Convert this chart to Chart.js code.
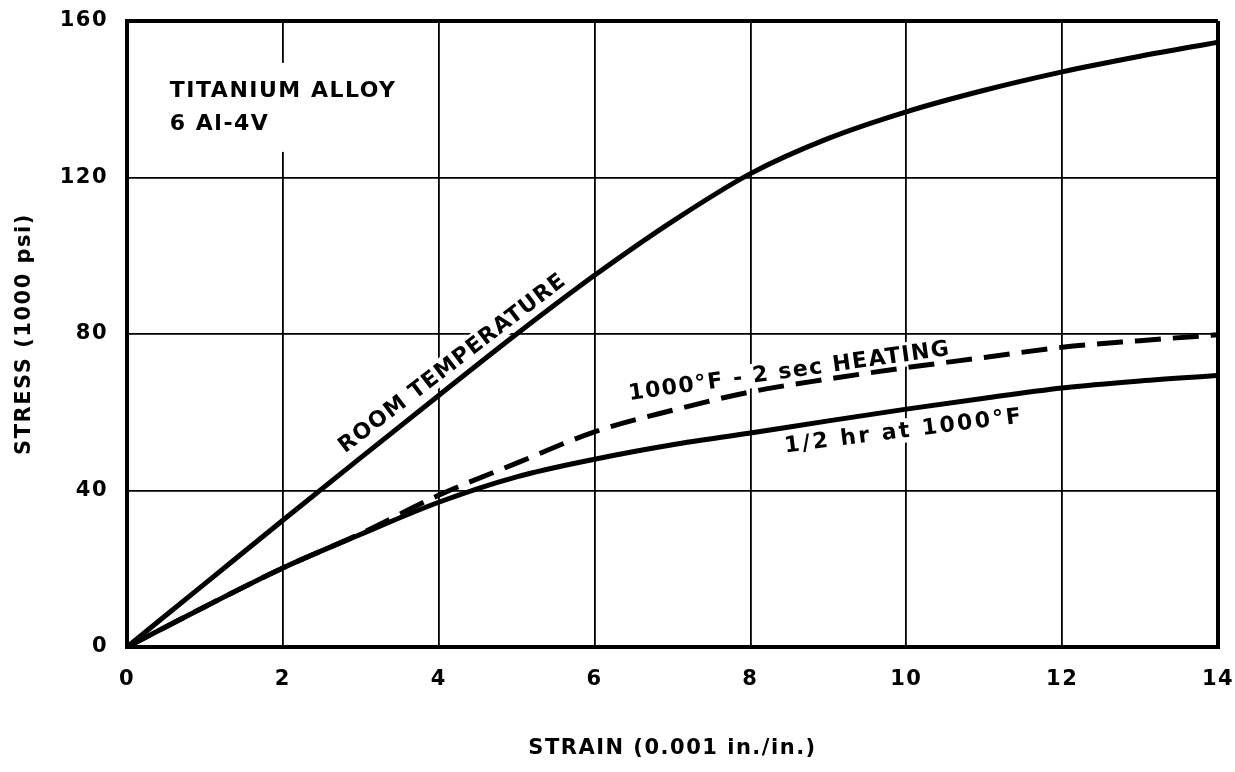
<!DOCTYPE html>
<html>
<head>
<meta charset="utf-8">
<title>Titanium Alloy 6Al-4V Stress-Strain</title>
<script src="https://cdn.jsdelivr.net/npm/chart.js@4.4.1/dist/chart.umd.min.js"></script>
<style>
  html, body { margin: 0; padding: 0; background: #ffffff; }
  #chart { display: block; }
</style>
</head>
<body>
<canvas id="chart" width="1235" height="772"></canvas>
<script>
// Strain values (0.001 in./in.) shared by all three curves
const strain = [0, 1, 2, 3, 4, 5, 6, 7, 8, 9, 10, 11, 12, 13, 14];

// Stress (1000 psi) for each condition
const roomTemperature = [0, 16.2, 32.4, 48.4, 64.3, 80, 95, 108.8, 121, 130, 136.8, 142.3, 147, 151, 154.6];
const heating2sec     = [0, 10.3, 20.2, 29, 38.8, 47, 55, 60.5, 65.2, 68.5, 71.4, 74, 76.6, 78.3, 79.8];
const halfHour1000F   = [0, 10.3, 20.2, 28.8, 37, 43.5, 48, 51.7, 54.7, 57.8, 60.8, 63.6, 66.2, 68, 69.4];

// Axis tick values
const strainTicks = [0, 2, 4, 6, 8, 10, 12, 14];
const stressTicks = [0, 40, 80, 120, 160];

const toPoints = ys => strain.map((x, i) => ({ x: x, y: ys[i] }));

const FONT = '"DejaVu Sans", "Liberation Sans", sans-serif';

// Curve labels, anchored in data space and set along each curve
const curveLabels = [
  { text: 'ROOM TEMPERATURE', x: 4.17, y: 72.6, angle: -37.5, size: 22, spacing: 1 },
  { text: '1000\u00b0F - 2 sec HEATING', x: 8.5, y: 70.6, angle: -8, size: 22, spacing: 1.5 },
  { text: '1/2 hr at 1000\u00b0F', x: 9.97, y: 55.3, angle: -7.2, size: 22, spacing: 2.5 }
];
// Material caption in the upper-left corner
const caption = { lines: ['TITANIUM ALLOY', '6 Al-4V'], x: 0.55, y: 140.6, size: 22, spacing: 1.5, lineGap: 33 };

const labelPlugin = {
  id: 'curveLabels',
  beforeDraw(chart) {
    chart.ctx.letterSpacing = '1.5px';
  },
  beforeDatasetsDraw(chart) {
    // clear the grid behind each label
    const { ctx, scales: { x, y } } = chart;
    ctx.save();
    ctx.fillStyle = '#ffffff';
    curveLabels.forEach(l => {
      ctx.save();
      ctx.font = `bold ${l.size}px ${FONT}`;
      ctx.letterSpacing = l.spacing + 'px';
      const w = ctx.measureText(l.text).width;
      ctx.translate(x.getPixelForValue(l.x), y.getPixelForValue(l.y));
      ctx.rotate(l.angle * Math.PI / 180);
      ctx.fillRect(-w / 2 - 6, -l.size * 0.55, w + 12, l.size * 1.1);
      ctx.restore();
    });
    ctx.font = `bold ${caption.size}px ${FONT}`;
    ctx.letterSpacing = caption.spacing + 'px';
    const cw = Math.max(...caption.lines.map(t => ctx.measureText(t).width));
    const cx = x.getPixelForValue(caption.x);
    const cy = y.getPixelForValue(caption.y);
    ctx.fillRect(cx - 12, cy - caption.size - 12, cw + 24, caption.lineGap + caption.size + 34);
    ctx.restore();
  },
  afterDatasetsDraw(chart) {
    const { ctx, scales: { x, y } } = chart;
    ctx.save();
    ctx.fillStyle = '#000000';
    ctx.textAlign = 'center';
    ctx.textBaseline = 'middle';
    curveLabels.forEach(l => {
      ctx.save();
      ctx.font = `bold ${l.size}px ${FONT}`;
      ctx.letterSpacing = l.spacing + 'px';
      ctx.translate(x.getPixelForValue(l.x), y.getPixelForValue(l.y));
      ctx.rotate(l.angle * Math.PI / 180);
      ctx.fillText(l.text, 0, 1);
      ctx.restore();
    });
    ctx.font = `bold ${caption.size}px ${FONT}`;
    ctx.letterSpacing = caption.spacing + 'px';
    ctx.textAlign = 'left';
    ctx.textBaseline = 'alphabetic';
    const cx = x.getPixelForValue(caption.x);
    const cy = y.getPixelForValue(caption.y);
    caption.lines.forEach((t, i) => ctx.fillText(t, cx, cy + i * caption.lineGap));
    ctx.restore();
    ctx.letterSpacing = '1.5px';
  }
};

const edgeWidth = (ctx, min, max) => {
  const v = ctx.tick ? ctx.tick.value : null;
  return (v === min || v === max) ? 4 : 1.8;
};

new Chart(document.getElementById('chart'), {
  type: 'line',
  data: {
    datasets: [
      {
        label: 'Room temperature',
        data: toPoints(roomTemperature),
        borderColor: '#000000',
        borderWidth: 5,
        cubicInterpolationMode: 'monotone',
        pointRadius: 0,
        borderCapStyle: 'round',
        borderJoinStyle: 'round'
      },
      {
        label: '1000°F - 2 sec heating',
        data: toPoints(heating2sec),
        borderColor: '#000000',
        borderWidth: 5,
        borderDash: [26, 12],
        cubicInterpolationMode: 'monotone',
        pointRadius: 0,
        borderJoinStyle: 'round'
      },
      {
        label: '1/2 hr at 1000°F',
        data: toPoints(halfHour1000F),
        borderColor: '#000000',
        borderWidth: 5,
        cubicInterpolationMode: 'monotone',
        pointRadius: 0,
        borderCapStyle: 'round',
        borderJoinStyle: 'round'
      }
    ]
  },
  options: {
    responsive: false,
    animation: false,
    layout: { padding: { left: 0, right: 17, top: 21, bottom: 0 } },
    plugins: { legend: { display: false }, tooltip: { enabled: false } },
    scales: {
      x: {
        type: 'linear',
        min: 0,
        max: 14,
        afterBuildTicks: s => { s.ticks = strainTicks.map(v => ({ value: v })); },
        afterFit: s => { s.height = 125; s.paddingLeft = 0; s.paddingRight = 0; },
        ticks: {
          color: '#000000',
          padding: 20,
          font: { family: FONT, size: 21, weight: 'bold' }
        },
        grid: {
          color: '#000000',
          lineWidth: c => edgeWidth(c, 0, 14),
          drawTicks: false
        },
        border: { display: true, color: '#000000', width: 4 },
        title: {
          display: true,
          text: 'STRAIN (0.001 in./in.)',
          color: '#000000',
          font: { family: FONT, size: 21, weight: 'bold' },
          padding: { top: 0, bottom: 11 }
        }
      },
      y: {
        type: 'linear',
        min: 0,
        max: 160,
        afterBuildTicks: s => { s.ticks = stressTicks.map(v => ({ value: v })); },
        afterFit: s => { s.width = 127; s.paddingTop = 0; s.paddingBottom = 0; },
        ticks: {
          color: '#000000',
          padding: 19,
          font: { family: FONT, size: 21, weight: 'bold' }
        },
        grid: {
          color: '#000000',
          lineWidth: c => edgeWidth(c, 0, 160),
          drawTicks: false
        },
        border: { display: true, color: '#000000', width: 4 },
        title: {
          display: true,
          text: 'STRESS (1000 psi)',
          color: '#000000',
          font: { family: FONT, size: 21, weight: 'bold' },
          padding: { top: 12, bottom: 0 }
        }
      }
    }
  },
  plugins: [labelPlugin]
});
</script>
</body>
</html>
